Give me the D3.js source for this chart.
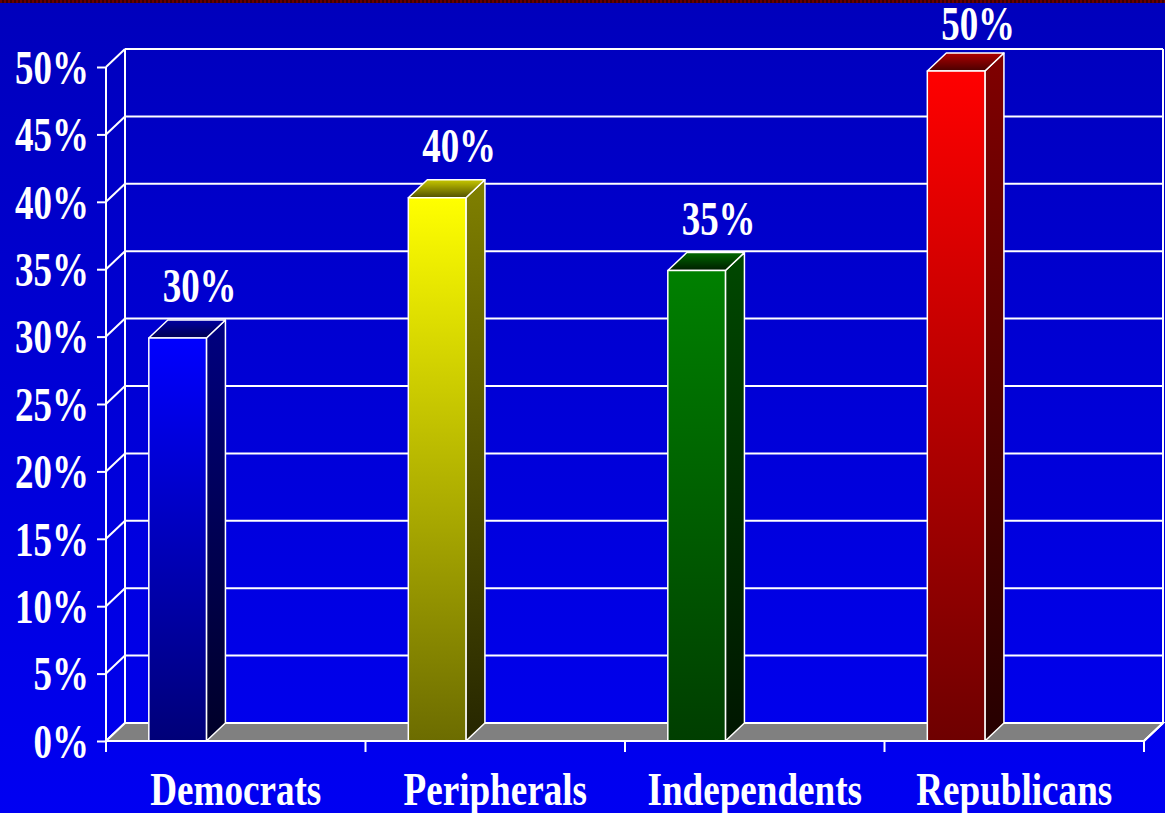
<!DOCTYPE html>
<html>
<head>
<meta charset="utf-8">
<script src="https://cdn.jsdelivr.net/npm/d3@7"></script>
<style>
  body { margin: 0; background: #0000d0; }
  svg { display: block; }
  text { font-family: 'Liberation Serif', 'Times New Roman', serif; font-weight: bold; fill: #fff; }
</style>
</head>
<body>
<svg class="chart"></svg>
<script>
// Chart data.
const categories = ['Democrats', 'Peripherals', 'Independents', 'Republicans'];
const values = [29.9, 40.3, 34.9, 49.7];
const valueLabels = ['30%', '40%', '35%', '50%'];
const yTicks = [0, 5, 10, 15, 20, 25, 30, 35, 40, 45, 50];

// Colours for each bar: front top/bottom, side top/bottom, top face back/front.
const palette = [
  { front: ['#0000ff', '#000078'], side: ['#000080', '#000028'], top: ['#0000a0', '#000050'] },
  { front: ['#ffff00', '#6c6c00'], side: ['#808000', '#262600'], top: ['#c8c800', '#505000'] },
  { front: ['#008000', '#003e00'], side: ['#004800', '#001600'], top: ['#006800', '#001c00'] },
  { front: ['#ff0000', '#6e0000'], side: ['#800000', '#260000'], top: ['#b00000', '#480000'] },
];

const width = 1165;
const height = 813;
const depthX = 19;
const depthY = -18;
const textSquash = 0.77;

const svg = d3.select('.chart')
  .attr('width', width)
  .attr('height', height)
  .attr('viewBox', `0 0 ${width} ${height}`);

const defs = svg.append('defs');

/**
 * Scales.
 */
const xScale = d3.scaleBand()
  .domain(categories)
  .range([106, 1144]);

const yScale = d3.scaleLinear()
  .domain([0, 50])
  .range([741, 67]);

const xLeft = xScale.range()[0];
const xRight = xScale.range()[1];
const y0 = yScale(0);
const yTop = yScale(50);

const vGradient = (id, c1, c2) => {
  const g = defs.append('linearGradient')
    .attr('id', id)
    .attr('x1', 0).attr('y1', 0).attr('x2', 0).attr('y2', 1);
  g.append('stop').attr('offset', '0%').attr('stop-color', c1);
  g.append('stop').attr('offset', '100%').attr('stop-color', c2);
};

// Background.
vGradient('bg', '#0000bc', '#0000f2');
svg.append('rect')
  .attr('width', width)
  .attr('height', height)
  .attr('fill', 'url(#bg)');

// Dotted dark red strip along the top.
const stripe = defs.append('pattern')
  .attr('id', 'strip')
  .attr('width', 4)
  .attr('height', 3)
  .attr('patternUnits', 'userSpaceOnUse');
stripe.append('rect').attr('width', 4).attr('height', 3).attr('fill', '#3a0000');
stripe.append('rect').attr('width', 2).attr('height', 3).attr('fill', '#6a0000');
svg.append('rect')
  .attr('width', width)
  .attr('height', 3)
  .attr('fill', 'url(#strip)');

/**
 * Back wall, grid lines and floor.
 */
const grid = svg.append('g')
  .attr('stroke', '#fff')
  .attr('stroke-width', 2)
  .attr('fill', 'none');

// Floor.
svg.append('path')
  .attr('d', `M${xLeft},${y0} L${xLeft + depthX},${y0 + depthY} L${xRight + depthX},${y0 + depthY} L${xRight},${y0} Z`)
  .attr('fill', '#808080')
  .attr('stroke', '#fff')
  .attr('stroke-width', 2);

yTicks.forEach((t) => {
  const y = yScale(t);
  grid.append('line')
    .attr('x1', xLeft).attr('y1', y)
    .attr('x2', xLeft + depthX).attr('y2', y + depthY);
  grid.append('line')
    .attr('x1', xLeft + depthX).attr('y1', y + depthY)
    .attr('x2', xRight + depthX).attr('y2', y + depthY);
});

grid.append('line')
  .attr('x1', xLeft + depthX).attr('y1', yTop + depthY)
  .attr('x2', xLeft + depthX).attr('y2', y0 + depthY);
grid.append('line')
  .attr('x1', xRight + depthX).attr('y1', yTop + depthY)
  .attr('x2', xRight + depthX).attr('y2', y0 + depthY);

svg.append('g')
  .attr('stroke', '#fff')
  .attr('stroke-width', 2)
  .append('line')
  .attr('x1', xLeft + depthX).attr('y1', y0 + depthY)
  .attr('x2', xRight + depthX).attr('y2', y0 + depthY);

/**
 * Bars drawn as boxes: front, side and top faces.
 */
const barOffset = xScale.bandwidth() * 0.165;
const barWidth = xScale.bandwidth() * 0.222;

palette.forEach((p, i) => {
  vGradient(`front${i}`, p.front[0], p.front[1]);
  vGradient(`side${i}`, p.side[0], p.side[1]);
  vGradient(`top${i}`, p.top[0], p.top[1]);
});

const bars = svg.selectAll('.bar')
  .data(categories)
  .join('g')
  .attr('class', 'bar')
  .attr('stroke', '#fff')
  .attr('stroke-width', 1.5)
  .attr('stroke-linejoin', 'round');

bars.append('path')
  .attr('fill', (d, i) => `url(#side${i})`)
  .attr('d', (d, i) => {
    const x1 = xScale(d) + barOffset + barWidth;
    const y1 = yScale(values[i]);
    return `M${x1},${y1} L${x1 + depthX},${y1 + depthY} L${x1 + depthX},${y0 + depthY} L${x1},${y0} Z`;
  });

bars.append('path')
  .attr('fill', (d, i) => `url(#top${i})`)
  .attr('d', (d, i) => {
    const x0 = xScale(d) + barOffset;
    const y1 = yScale(values[i]);
    return `M${x0},${y1} L${x0 + depthX},${y1 + depthY} L${x0 + barWidth + depthX},${y1 + depthY} L${x0 + barWidth},${y1} Z`;
  });

bars.append('rect')
  .attr('fill', (d, i) => `url(#front${i})`)
  .attr('x', (d) => xScale(d) + barOffset)
  .attr('y', (d, i) => yScale(values[i]))
  .attr('width', barWidth)
  .attr('height', (d, i) => y0 - yScale(values[i]));

// Value labels above the bars.
svg.selectAll('.value-label')
  .data(categories)
  .join('text')
  .attr('class', 'value-label')
  .attr('text-anchor', 'middle')
  .attr('font-size', 48)
  .attr('transform', (d, i) => {
    const cx = xScale(d) + barOffset + barWidth / 2 + depthX + 3;
    const cy = Math.max(yScale(values[i]) + depthY - 18, 40);
    return `translate(${cx},${cy}) scale(${textSquash},1)`;
  })
  .text((d, i) => valueLabels[i]);

/**
 * Front axes.
 */
const front = svg.append('g')
  .attr('stroke', '#fff')
  .attr('stroke-width', 2);

front.append('line')
  .attr('x1', xLeft).attr('y1', y0)
  .attr('x2', xRight).attr('y2', y0);
front.append('line')
  .attr('x1', xRight).attr('y1', y0)
  .attr('x2', xRight + depthX).attr('y2', y0 + depthY);

const yAxis = d3.axisLeft(yScale)
  .tickValues(yTicks)
  .tickSize(9)
  .tickFormat((d) => `${d}%`);

const yAxisG = svg.append('g')
  .attr('transform', `translate(${xLeft},0)`)
  .call(yAxis);

yAxisG.select('.domain').remove();
yAxisG.selectAll('.tick line').attr('stroke', '#fff').attr('stroke-width', 2);
yAxisG.selectAll('.tick text')
  .attr('font-size', 48)
  .attr('font-family', null)
  .attr('fill', '#fff')
  .attr('x', -17 / textSquash)
  .attr('dy', '0.34em')
  .attr('transform', `scale(${textSquash},1)`);

front.append('line')
  .attr('x1', xLeft).attr('y1', yTop)
  .attr('x2', xLeft).attr('y2', y0 + 11);

// Category boundary ticks along the bottom.
const boundaries = categories.map((c) => xScale(c)).concat([xRight]);
front.selectAll('.x-tick')
  .data(boundaries)
  .join('line')
  .attr('class', 'x-tick')
  .attr('x1', (d) => d).attr('x2', (d) => d)
  .attr('y1', y0).attr('y2', y0 + 11);

svg.selectAll('.cat-label')
  .data(categories)
  .join('text')
  .attr('class', 'cat-label')
  .attr('text-anchor', 'middle')
  .attr('font-size', 47)
  .attr('transform', (d) => `translate(${xScale(d) + xScale.bandwidth() / 2},805) scale(${textSquash + 0.02},1)`)
  .text((d) => d);
</script>
</body>
</html>
